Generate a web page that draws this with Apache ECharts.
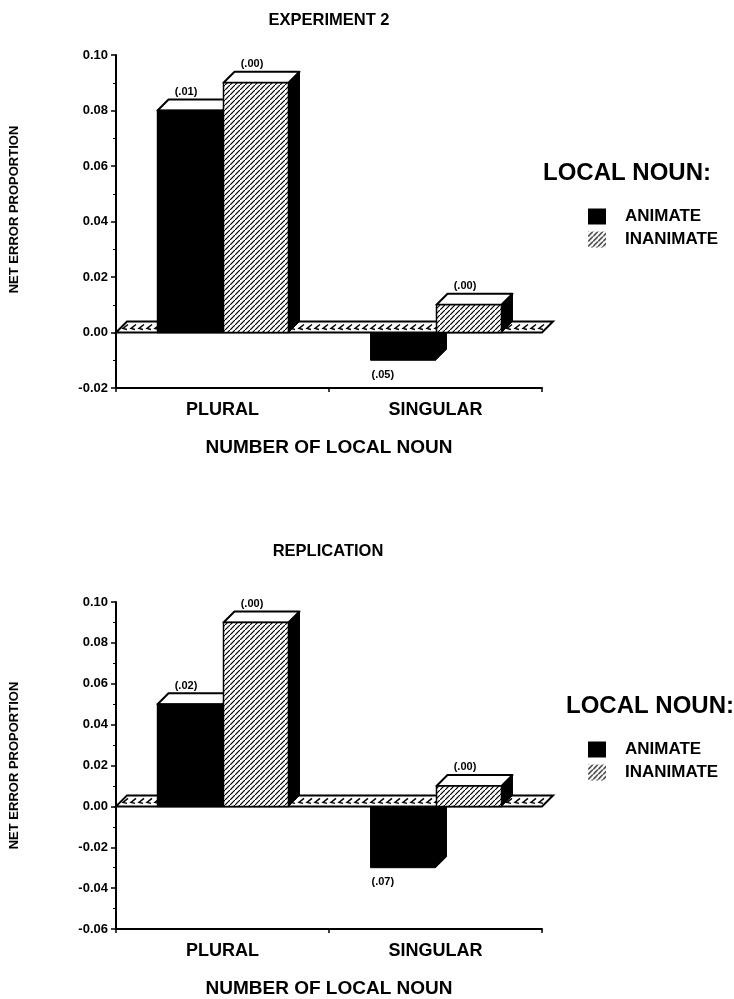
<!DOCTYPE html>
<html>
<head>
<meta charset="utf-8">
<script src="https://cdn.jsdelivr.net/npm/echarts@6/dist/echarts.min.js"></script>
<style>
    * { margin: 0; padding: 0; }
    #main { width: 734px; height: 999px; background: #fff; }
</style>
</head>
<body>
<div id="main"></div>
<script>
// categories and series
var categories = ['PLURAL', 'SINGULAR'];
var seriesNames = ['ANIMATE', 'INANIMATE'];

// experiment 2
var exp2Animate = [0.08, -0.01];
var exp2Inanimate = [0.09, 0.01];
var exp2AnimateNote = ['(.01)', '(.05)'];
var exp2InanimateNote = ['(.00)', '(.00)'];
var exp2Range = [-0.02, 0.10];

// replication
var repAnimate = [0.05, -0.03];
var repInanimate = [0.09, 0.01];
var repAnimateNote = ['(.02)', '(.07)'];
var repInanimateNote = ['(.00)', '(.00)'];
var repRange = [-0.06, 0.10];

var FONT = '"Liberation Sans", Arial, sans-serif';
var D = 11;          // depth of the 3d look
var BAR_RATIO = 0.305;

function hatchCanvas() {
    var c = document.createElement('canvas');
    c.width = 5; c.height = 5;
    var g = c.getContext('2d');
    g.fillStyle = '#fff';
    g.fillRect(0, 0, 5, 5);
    g.strokeStyle = '#000';
    g.lineWidth = 1.2;
    g.beginPath();
    g.moveTo(-1, 6); g.lineTo(6, -1);
    g.stroke();
    return c;
}
var hatch = { image: hatchCanvas(), repeat: 'repeat' };
var fills = ['#000', hatch];

function barRender(side, notes) {
    return function (params, api) {
        var ci = api.value(0), v = api.value(1);
        var p0 = api.coord([ci, 0]), p1 = api.coord([ci, v]);
        var bw = api.size([1, 0])[0] * BAR_RATIO;
        var x0 = side === 0 ? p0[0] - bw : p0[0] + 1;
        var x1 = x0 + bw, y0 = p0[1], y1 = p1[1];
        var kids = [];
        if (v >= 0) {
            var z = 10 + side;
            kids.push({ type: 'polygon', z2: z,
                shape: { points: [[x1, y1], [x1 + D, y1 - D], [x1 + D, y0 - D], [x1, y0]] },
                style: { fill: '#000', stroke: '#000', lineWidth: 1 } });
            kids.push({ type: 'polygon', z2: z,
                shape: { points: [[x0, y1], [x0 + D, y1 - D], [x1 + D, y1 - D], [x1, y1]] },
                style: { fill: '#fff', stroke: '#000', lineWidth: 2, lineJoin: 'round' } });
            kids.push({ type: 'rect', z2: z,
                shape: { x: x0, y: y1, width: bw, height: y0 - y1 },
                style: { fill: fills[side], stroke: '#000', lineWidth: 1.5 } });
            kids.push({ type: 'text', z2: z,
                style: { text: notes[params.dataIndex], x: (x0 + x1) / 2 - 4, y: y1 - D - 2,
                    align: 'center', verticalAlign: 'bottom',
                    font: 'bold 11px ' + FONT, fill: '#000' } });
        } else {
            kids.push({ type: 'polygon', z2: 1,
                shape: { points: [[x1, y0], [x1 + D, y0 - D], [x1 + D, y1 - D], [x1, y1]] },
                style: { fill: '#000', stroke: '#000', lineWidth: 1 } });
            kids.push({ type: 'rect', z2: 1,
                shape: { x: x0, y: y0, width: bw, height: y1 - y0 },
                style: { fill: fills[side], stroke: '#000', lineWidth: 1 } });
            kids.push({ type: 'text', z2: 1,
                style: { text: notes[params.dataIndex], x: x0 + 1, y: y1 + 9,
                    align: 'left', verticalAlign: 'top',
                    font: 'bold 11px ' + FONT, fill: '#000' } });
        }
        return { type: 'group', children: kids };
    };
}

// the hatched floor at zero
function floorRender(params, api) {
    var cs = params.coordSys;
    var y0 = api.coord([0, 0])[1];
    var xa = cs.x, xb = cs.x + cs.width;
    var kids = [{ type: 'polygon', z2: 5,
        shape: { points: [[xa, y0], [xa + D, y0 - D], [xb + D, y0 - D], [xb, y0]] },
        style: { fill: '#fff', stroke: '#000', lineWidth: 2 } }];
    for (var x = xa + 5; x < xb - 4; x += 8) {
        kids.push({ type: 'polyline', z2: 5,
            shape: { points: [[x + 7, y0 - 8], [x + 2, y0 - 4], [x + 6, y0 - 3]] },
            style: { stroke: '#000', fill: null, lineWidth: 1.5 } });
    }
    return { type: 'group', children: kids };
}

function toData(arr) {
    return arr.map(function (v, i) { return [i, v]; });
}

function xAxisOpt(gi) {
    return {
        type: 'category', gridIndex: gi, data: categories, boundaryGap: true,
        axisLine: { onZero: false, lineStyle: { color: '#000', width: 2 } },
        axisTick: { show: true, length: 4, lineStyle: { color: '#000', width: 1.5 } },
        axisLabel: { fontFamily: FONT, fontWeight: 'bold', fontSize: 18, color: '#000', margin: 13 },
        name: 'NUMBER OF LOCAL NOUN', nameLocation: 'middle', nameGap: 50,
        nameTextStyle: { fontFamily: FONT, fontWeight: 'bold', fontSize: 19, color: '#000' }
    };
}

function yAxisOpt(gi, range, namePad) {
    return {
        type: 'value', gridIndex: gi, min: range[0], max: range[1], interval: 0.02,
        name: 'NET ERROR PROPORTION', nameLocation: 'middle', nameGap: 95, nameRotate: 90,
        nameTextStyle: { fontFamily: FONT, fontWeight: 'bold', fontSize: 13, color: '#000', padding: namePad },
        axisLine: { show: true, lineStyle: { color: '#000', width: 2 } },
        axisTick: { show: true, length: 5, lineStyle: { color: '#000', width: 1.5 } },
        minorTick: { show: true, splitNumber: 2, length: 3, lineStyle: { color: '#000', width: 1 } },
        splitLine: { show: false },
        axisLabel: {
            fontFamily: FONT, fontWeight: 'bold', fontSize: 13, color: '#000', margin: 8,
            formatter: function (v) { return v.toFixed(2); }
        }
    };
}

function chartSeries(gi, animate, inanimate, aNote, iNote) {
    return [
        { type: 'custom', xAxisIndex: gi, yAxisIndex: gi, silent: true,
          data: [[0, 0]], renderItem: floorRender },
        { type: 'custom', name: seriesNames[0], xAxisIndex: gi, yAxisIndex: gi,
          itemStyle: { color: fills[0] }, encode: { x: 0, y: 1 },
          data: toData(animate), renderItem: barRender(0, aNote) },
        { type: 'custom', name: seriesNames[1], xAxisIndex: gi, yAxisIndex: gi,
          itemStyle: { color: fills[1] }, encode: { x: 0, y: 1 },
          data: toData(inanimate), renderItem: barRender(1, iNote) }
    ];
}

function legendOpt(left, top) {
    return {
        left: left, top: top, orient: 'vertical', itemGap: 6,
        itemWidth: 18, itemHeight: 16, icon: 'rect', selectedMode: false,
        textStyle: { fontFamily: FONT, fontWeight: 'bold', fontSize: 17, color: '#000', padding: [0, 0, 0, 14] },
        data: [
            { name: seriesNames[0], itemStyle: { color: fills[0], borderWidth: 0 } },
            { name: seriesNames[1], itemStyle: { color: fills[1], borderWidth: 0 } }
        ]
    };
}

var titleStyle = { fontFamily: FONT, fontWeight: 'bold', fontSize: 16.5, color: '#000' };
var legendTitleStyle = { fontFamily: FONT, fontWeight: 'bold', fontSize: 24, color: '#000' };

var myChart = echarts.init(document.getElementById('main'));
var option = {
    backgroundColor: '#fff',
    animation: false,
    title: [
        { text: 'EXPERIMENT 2', left: 324, top: 7, textAlign: 'center', textStyle: titleStyle },
        { text: 'REPLICATION', left: 323, top: 538, textAlign: 'center', textStyle: titleStyle },
        { text: 'LOCAL NOUN:', left: 538, top: 156, textStyle: legendTitleStyle },
        { text: 'LOCAL NOUN:', left: 561, top: 689, textStyle: legendTitleStyle }
    ],
    legend: [legendOpt(583, 203), legendOpt(583, 736)],
    grid: [
        { left: 113, top: 55, width: 429, height: 333 },
        { left: 113, top: 602, width: 429, height: 327 }
    ],
    xAxis: [xAxisOpt(0), xAxisOpt(1)],
    yAxis: [yAxisOpt(0, exp2Range, [0, 0, 0, 24]), yAxisOpt(1, repRange, 0)],
    series: chartSeries(0, exp2Animate, exp2Inanimate, exp2AnimateNote, exp2InanimateNote)
        .concat(chartSeries(1, repAnimate, repInanimate, repAnimateNote, repInanimateNote))
};
myChart.setOption(option);
</script>
</body>
</html>
